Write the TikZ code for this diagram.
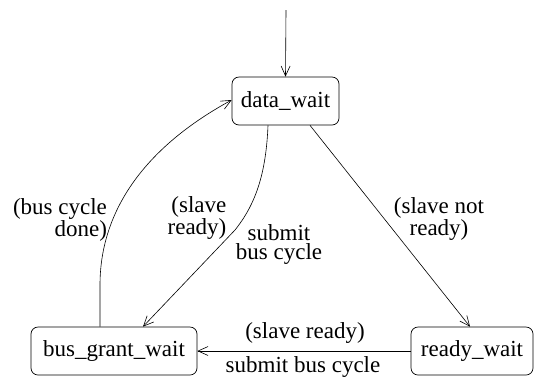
\documentclass[tikz,border=0pt]{standalone}
\usepackage{fontspec}
\setmainfont{Liberation Serif}
\usetikzlibrary{arrows.meta}
\begin{document}
\begin{tikzpicture}[x=1pt,y=-1pt,
  state/.style={draw, rounded corners=7pt, minimum height=48pt, inner sep=0pt, line width=0.7pt},
  lbl/.style={inner sep=0pt, font=\fontsize{23}{19}\selectfont},
  conn/.style={line width=0.6pt, -{Straight Barb[length=10pt,width=9pt]}}]
\useasboundingbox (0,0) rectangle (534,376);
\node[state, minimum width=107pt, font=\fontsize{23}{23}\selectfont] (dw) at (285.5,101) {data\_wait};
\node[state, minimum width=166pt, font=\fontsize{23}{23}\selectfont] (bgw) at (114,351) {bus\_grant\_wait};
\node[state, minimum width=122pt, font=\fontsize{23}{23}\selectfont] (rw) at (472,351) {ready\_wait};
\coordinate (start) at (286,10);
\draw[conn] (start) -- (dw.north);
\draw[conn] ([xshift=24.5pt]dw.south) -- ([xshift=-2pt]rw.north);
\draw[conn] ([xshift=-14pt]bgw.north) -- (100,285) .. controls (100,215) and (140,150) .. ([yshift=1pt]dw.west);
\draw[conn] ([xshift=-17.5pt]dw.south) .. controls (266,175) and (255,205) .. (235,230) -- ([xshift=29pt]bgw.north);
\draw[conn] (rw.west) -- (bgw.east);
\node[lbl, align=right] (l1) at (60,220) {(bus cycle\\done)};
\node[lbl, align=right] (l2) at (197,218) {(slave\\ready)};
\node[lbl, align=center] (l3) at (279,244) {submit\\bus cycle};
\node[lbl, align=center] (l4) at (439,219) {(slave not\\ready)};
\node[lbl] (l5) at (305,333) {(slave ready)};
\node[lbl] (l6) at (303,367) {submit bus cycle};
\end{tikzpicture}
\end{document}
